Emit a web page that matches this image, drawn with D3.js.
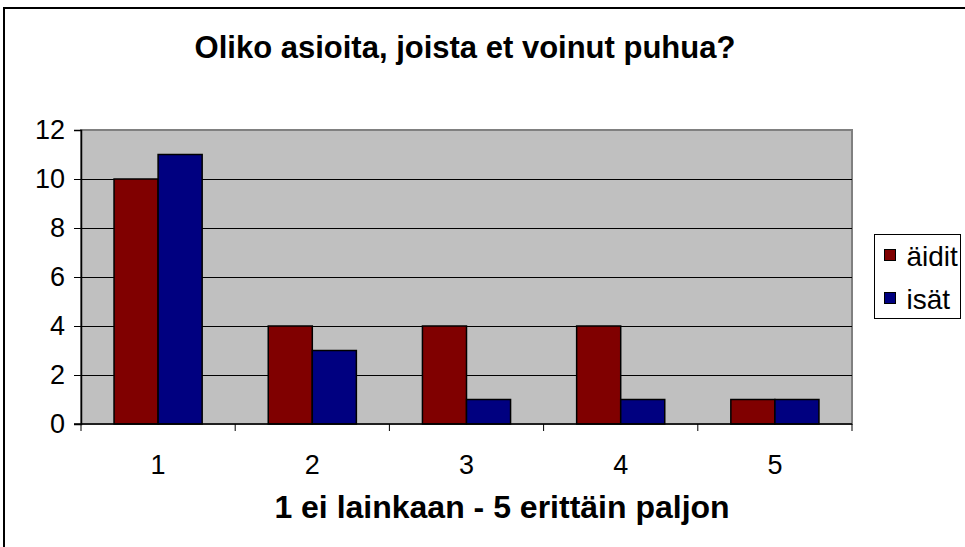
<!DOCTYPE html>
<html>
<head>
<meta charset="utf-8">
<script src="https://cdn.jsdelivr.net/npm/d3@7"></script>
<style>
  body { margin: 0; background: #fff; }
  svg { display: block; font-family: Arial, "Liberation Sans", sans-serif; }
</style>
</head>
<body>
<div id="chart"></div>
<script>
const categories = ["1", "2", "3", "4", "5"];
const seriesNames = ["äidit", "isät"];
const aiditValues = [10, 4, 4, 4, 1];
const isatValues = [11, 3, 1, 1, 1];
const yTicks = [0, 2, 4, 6, 8, 10, 12];
const seriesColors = ["#800000", "#000080"];

const width = 965, height = 547;
const plot = { left: 81, right: 852, top: 130, bottom: 424 };

const svg = d3.select("#chart").append("svg")
  .attr("width", width)
  .attr("height", height);

// outer chart frame (runs off the right and bottom edges)
svg.append("rect")
  .attr("x", 4).attr("y", 8)
  .attr("width", 1000).attr("height", 600)
  .attr("fill", "#fff")
  .attr("stroke", "#000")
  .attr("stroke-width", 2);

const x0 = d3.scaleBand().domain(categories).range([plot.left, plot.right]).paddingInner(0).paddingOuter(0);
const x1 = d3.scaleBand().domain(seriesNames).range([0, x0.bandwidth()]).paddingInner(0).paddingOuter(0.75);
const y = d3.scaleLinear().domain([0, 12]).range([plot.bottom, plot.top]);

// plot background
svg.append("rect")
  .attr("x", plot.left).attr("y", plot.top)
  .attr("width", plot.right - plot.left).attr("height", plot.bottom - plot.top)
  .attr("fill", "#c0c0c0")
  .attr("stroke", "#808080")
  .attr("stroke-width", 2);

// gridlines
svg.append("g").selectAll("line")
  .data(yTicks.filter(d => d > 0 && d < 12))
  .join("line")
  .attr("x1", plot.left).attr("x2", plot.right)
  .attr("y1", d => Math.round(y(d)) + 0.5).attr("y2", d => Math.round(y(d)) + 0.5)
  .attr("stroke", "#000");

// bars
const data = categories.map((c, i) => ({ cat: c, values: [aiditValues[i], isatValues[i]] }));
const groups = svg.append("g").selectAll("g")
  .data(data)
  .join("g")
  .attr("transform", d => `translate(${x0(d.cat)},0)`);

groups.selectAll("rect")
  .data(d => d.values.map((v, k) => ({ name: seriesNames[k], value: v, k })))
  .join("rect")
  .attr("x", d => x1(d.name))
  .attr("y", d => y(d.value))
  .attr("width", x1.bandwidth())
  .attr("height", d => y(0) - y(d.value))
  .attr("fill", d => seriesColors[d.k])
  .attr("stroke", "#000")
  .attr("stroke-width", 1.5);

// y axis
const yAxis = svg.append("g")
  .attr("transform", `translate(${plot.left},0)`)
  .call(d3.axisLeft(y).tickValues(yTicks).tickSize(7).tickPadding(9));
yAxis.select(".domain").attr("stroke", "#000").attr("stroke-width", 1.5);
yAxis.selectAll("text").attr("font-size", 27).attr("fill", "#000")
  .attr("font-family", "Arial, 'Liberation Sans', sans-serif");
yAxis.selectAll(".tick line").attr("stroke", "#000");

// x axis: ticks at category boundaries
const xAxisG = svg.append("g");
xAxisG.append("line")
  .attr("x1", plot.left - 7).attr("x2", plot.right)
  .attr("y1", plot.bottom).attr("y2", plot.bottom)
  .attr("stroke", "#000").attr("stroke-width", 1.5);
xAxisG.selectAll(".bound")
  .data(categories.concat(["end"]))
  .join("line")
  .attr("class", "bound")
  .attr("x1", (d, i) => plot.left + i * x0.bandwidth())
  .attr("x2", (d, i) => plot.left + i * x0.bandwidth())
  .attr("y1", plot.bottom).attr("y2", plot.bottom + 7)
  .attr("stroke", "#000");
xAxisG.selectAll("text")
  .data(categories)
  .join("text")
  .attr("x", d => x0(d) + x0.bandwidth() / 2)
  .attr("y", 474)
  .attr("text-anchor", "middle")
  .attr("font-size", 27)
  .text(d => d);

// title
svg.append("text")
  .attr("x", 465).attr("y", 58)
  .attr("text-anchor", "middle")
  .attr("font-size", 31)
  .attr("font-weight", "bold")
  .text("Oliko asioita, joista et voinut puhua?");

// x axis title
svg.append("text")
  .attr("x", 502).attr("y", 518)
  .attr("text-anchor", "middle")
  .attr("font-size", 32)
  .attr("font-weight", "bold")
  .text("1 ei lainkaan - 5 erittäin paljon");

// legend
const legend = svg.append("g");
legend.append("rect")
  .attr("x", 874.5).attr("y", 234.5)
  .attr("width", 86).attr("height", 84)
  .attr("fill", "#fff").attr("stroke", "#000");
const items = legend.selectAll("g.item")
  .data(seriesNames)
  .join("g")
  .attr("class", "item")
  .attr("transform", (d, i) => `translate(884.5,${249.5 + i * 43})`);
items.append("rect")
  .attr("width", 11).attr("height", 11)
  .attr("fill", (d, i) => seriesColors[i])
  .attr("stroke", "#000");
items.append("text")
  .attr("x", 22).attr("y", 16)
  .attr("font-size", 28)
  .text(d => d);
</script>
</body>
</html>
